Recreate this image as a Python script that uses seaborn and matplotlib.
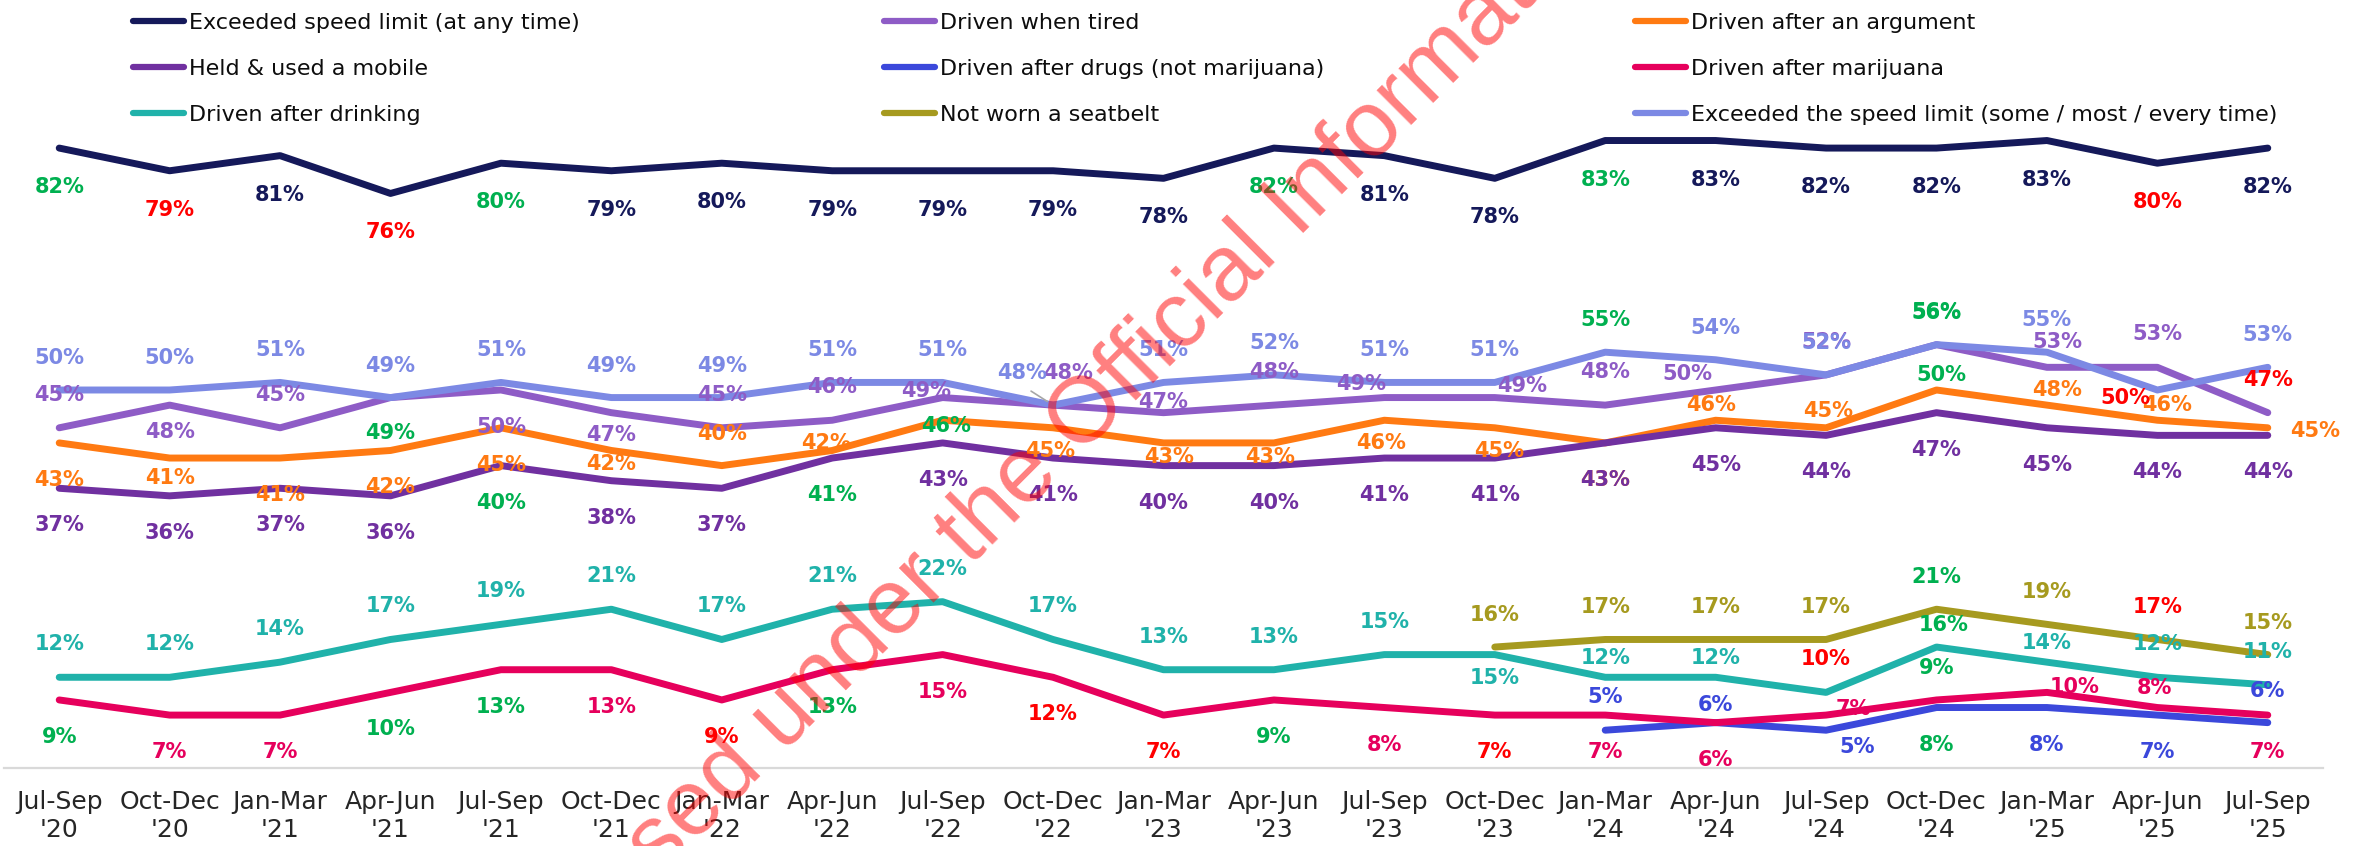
import matplotlib.pyplot as plt
import pandas as pd
import seaborn as sns
from matplotlib.lines import Line2D

periods = ["Jul-Sep\n'20", "Oct-Dec\n'20", "Jan-Mar\n'21", "Apr-Jun\n'21", "Jul-Sep\n'21",
           "Oct-Dec\n'21", "Jan-Mar\n'22", "Apr-Jun\n'22", "Jul-Sep\n'22", "Oct-Dec\n'22",
           "Jan-Mar\n'23", "Apr-Jun\n'23", "Jul-Sep\n'23", "Oct-Dec\n'23", "Jan-Mar\n'24",
           "Apr-Jun\n'24", "Jul-Sep\n'24", "Oct-Dec\n'24", "Jan-Mar\n'25", "Apr-Jun\n'25",
           "Jul-Sep\n'25"]

# % of drivers, one value per quarter (None = not asked yet)
speed_any = [82, 79, 81, 76, 80, 79, 80, 79, 79, 79, 78, 82, 81, 78, 83, 83, 82, 82, 83, 80, 82]
tired     = [45, 48, 45, 49, 50, 47, 45, 46, 49, 48, 47, 48, 49, 49, 48, 50, 52, 56, 53, 53, 47]
argument  = [43, 41, 41, 42, 45, 42, 40, 42, 46, 45, 43, 43, 46, 45, 43, 46, 45, 50, 48, 46, 45]
mobile    = [37, 36, 37, 36, 40, 38, 37, 41, 43, 41, 40, 40, 41, 41, 43, 45, 44, 47, 45, 44, 44]
drugs     = [None] * 14 + [5, 6, 5, 8, 8, 7, 6]
marijuana = [9, 7, 7, 10, 13, 13, 9, 13, 15, 12, 7, 9, 8, 7, 7, 6, 7, 9, 10, 8, 7]
drinking  = [12, 12, 14, 17, 19, 21, 17, 21, 22, 17, 13, 13, 15, 15, 12, 12, 10, 16, 14, 12, 11]
seatbelt  = [None] * 13 + [16, 17, 17, 17, 21, 19, 17, 15]
speed_some = [50, 50, 51, 49, 51, 49, 49, 51, 51, 48, 51, 52, 51, 51, 55, 54, 52, 56, 55, 50, 53]

# significance flags per quarter: g = sig. higher, r = sig. lower, . = no change
speed_any_sig  = "gr.rg......g..g....r."
tired_sig      = "...g.............g..r"
argument_sig   = "........g........g..."
mobile_sig     = "....g..g............."
drugs_sig      = ".................g..."
marijuana_sig  = "g..gg.rg.rrg.r...g..."
drinking_sig   = "................rg..."
seatbelt_sig   = ".................g.r."
speed_some_sig = "..............g..g.r."

names = ["Exceeded speed limit (at any time)", "Driven when tired", "Driven after an argument",
         "Held & used a mobile", "Driven after drugs (not marijuana)", "Driven after marijuana",
         "Driven after drinking", "Not worn a seatbelt",
         "Exceeded the speed limit (some / most / every time)"]
colours = ["#15195A", "#8E5CC6", "#FF7A12", "#7030A0", "#3B48DB", "#E6005C",
           "#20B2AA", "#A69A1F", "#7C89E4"]
GREEN, RED = "#00B050", "#FF0000"

# label offsets in pixels: default per series, plus hand-placed ones
label_pos = [
    ((0, -39), {}),
    ((0, 33), {1: (0, -27), 3: (0, -35), 4: (0, -37), 5: (0, -22), 8: (-17, 7), 9: (15, 32),
               10: (0, 11), 12: (-23, 14), 13: (27, 12), 15: (-28, 16), 18: (10, 25)}),
    ((0, -37), {1: (0, -20), 5: (0, -14), 6: (0, 32), 7: (-6, 7), 8: (3, -6), 9: (-3, -23),
                10: (6, -14), 11: (-4, -14), 12: (-3, -23), 13: (4, -23), 15: (-5, 15),
                16: (2, 17), 17: (5, 15), 18: (10, 15), 19: (10, 15), 20: (47, -3)}),
    ((0, -37), {}),
    ((0, -37), {14: (0, 33), 15: (0, 18), 16: (31, -17), 20: (0, 32)}),
    ((0, -37), {16: (27, 6), 17: (0, 32), 18: (28, 5), 19: (-3, 20)}),
    ((0, 33), {13: (0, -23), 14: (0, 19), 15: (0, 19), 17: (7, 22), 18: (0, 19)}),
    ((0, 32), {}),
    ((0, 32), {9: (-31, 32), 19: (-32, -8)}),
]

values = [speed_any, tired, argument, mobile, drugs, marijuana, drinking, seatbelt, speed_some]
flags = [speed_any_sig, tired_sig, argument_sig, mobile_sig, drugs_sig, marijuana_sig,
         drinking_sig, seatbelt_sig, speed_some_sig]

table = pd.DataFrame(dict(zip(names, values)))
long = table.reset_index().melt(id_vars="index", var_name="series", value_name="pct").dropna()

sns.set_style("white")
plt.rcParams["font.family"] = ["DejaVu Sans"]

W, H = 2369, 846
fig = plt.figure(figsize=(W / 100, H / 100), dpi=100)
ax = fig.add_axes([4 / W, 78 / H, 2319 / W, 756 / H])

sns.lineplot(data=long, x="index", y="pct", hue="series", hue_order=names,
             palette=dict(zip(names, colours)), linewidth=5, estimator=None,
             legend=False, ax=ax, solid_capstyle="round", solid_joinstyle="round")

for vals, fl, col, (default, nudges) in zip(values, flags, colours, label_pos):
    for i, v in enumerate(vals):
        if v is None:
            continue
        dx, dy = nudges.get(i, default)
        c = GREEN if fl[i] == "g" else RED if fl[i] == "r" else col
        ax.annotate(f"{v}%", (i, v), xytext=(dx, dy), textcoords="offset pixels",
                    ha="center", va="center", fontsize=15, fontweight="bold",
                    color=c, zorder=5, annotation_clip=False)

# little leader line for the displaced 48% label
ax.annotate("", (9, speed_some[9]), xytext=(-22, 14), textcoords="offset pixels",
            arrowprops=dict(arrowstyle="-", color="#A6A6A6", lw=1.2, shrinkA=0, shrinkB=5))

ax.set_xlim(-0.5, 20.5)
ax.set_ylim(0, 100)
ax.set_xticks(range(len(periods)))
ax.set_xticklabels(periods)
ax.set_yticks([])
ax.set_xlabel("")
ax.set_ylabel("")
ax.tick_params(axis="x", length=0, pad=16, labelsize=18, labelcolor="#262626")
for s in ["top", "left", "right"]:
    ax.spines[s].set_visible(False)
ax.spines["bottom"].set_color("#D9D9D9")
ax.spines["bottom"].set_linewidth(1.6)

# legend, three columns laid out row by row
col_x = [133, 884, 1635]
for k, x in enumerate(col_x):
    idx = [k, k + 3, k + 6]
    handles = [Line2D([], [], color=colours[j], lw=4.5, solid_capstyle="round") for j in idx]
    fig.legend(handles, [names[j] for j in idx], loc="upper left",
               bbox_to_anchor=(x / W, 1 - 13 / H), frameon=False, fontsize=16,
               borderpad=0, borderaxespad=0, handlelength=2.3, handletextpad=0.2,
               labelspacing=1.17, labelcolor="#0D0D0D")

fig.text(1095 / W, 1 - 408 / H, "Released under the Official Information Act",
         rotation=45, rotation_mode="anchor", ha="center", va="center",
         fontsize=67, family="Liberation Sans", color="#FF0000", alpha=0.5, zorder=10)

fig.savefig("out.png", dpi=100)
